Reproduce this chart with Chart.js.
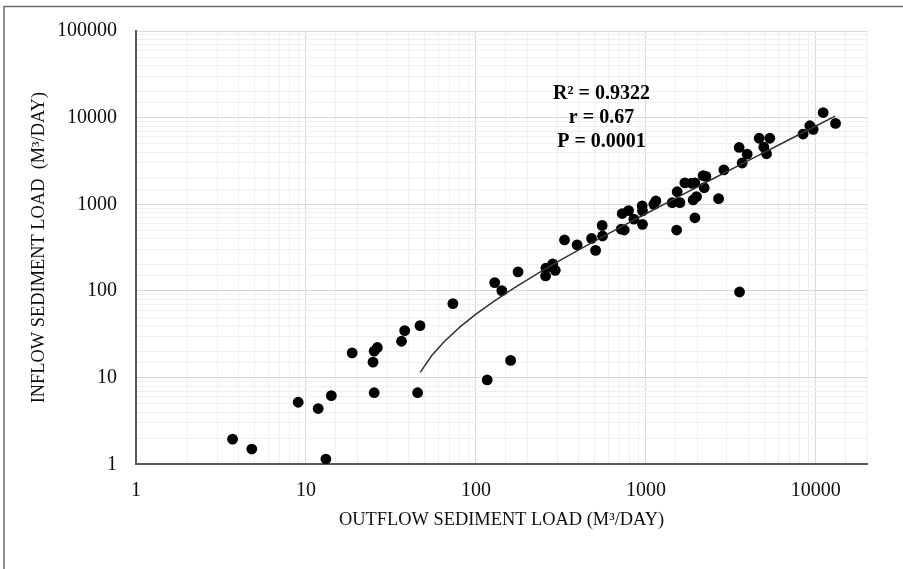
<!DOCTYPE html>
<html>
<head>
<meta charset="utf-8">
<script src="https://cdn.jsdelivr.net/npm/chart.js@4.4.1/dist/chart.umd.min.js"></script>
<style>
  html, body { margin: 0; padding: 0; background: #fff; }
  #wrap { width: 903px; height: 569px; }
</style>
</head>
<body>
<div id="wrap"><canvas id="loadChart" width="903" height="569"></canvas></div>
<script>
// sediment loads, m3/day
const outflow = [3.7, 4.8, 13.1, 9.0, 11.8, 14.1, 18.7, 24.8, 25.2, 26.3, 25.2, 36.5, 38.1, 46.9, 45.4, 73.2,
    116.5, 160, 129, 142, 177, 257, 258, 283, 293, 332, 394, 479, 506, 553, 556, 716, 746, 726, 791, 850,
    955, 951, 955, 1114, 1145, 1429, 1585, 1528, 1517, 1695, 1857, 1943, 1897, 1986, 1943, 2174, 2254,
    2203, 2678, 2877, 3539, 3686, 3944, 4642, 5360, 4943, 5130, 8415, 9220, 9645, 11040, 13060, 3556];
const inflow = [1.95, 1.5, 1.15, 5.2, 4.4, 6.2, 19.3, 15.1, 20.2, 22.3, 6.7, 26.3, 34.9, 39.8, 6.7, 71.5,
    9.4, 15.8, 125, 101, 166, 149, 184, 206, 173, 388, 340, 403, 294, 571, 431, 518, 505, 783, 848, 674,
    587, 959, 841, 1000, 1094, 1047, 1047, 1397, 505, 1771, 1750, 1770, 1123, 1225, 699, 2145, 2100,
    1553, 1162, 2494, 4529, 2998, 3795, 5783, 5783, 4563, 3828, 6473, 8076, 7328, 11460, 8580, 97.3];

// fitted trend line, sampled along its length
const trendX = [47, 55, 65, 80, 100, 130, 170, 230, 320, 450, 650, 1000, 1500, 2500, 4000, 6500, 10000, 13000];
const trendY = [11.5, 18, 26, 38, 54, 78, 110, 159, 231, 336, 497, 778, 1180, 1985, 3190, 5200, 8020, 10430];

const decadeLabels = [1, 10, 100, 1000, 10000, 100000];
const statLines = ['R\u00b2 = 0.9322', 'r = 0.67', 'P = 0.0001'];

const serif = '"Liberation Serif", "Times New Roman", serif';

function isDecade(v) {
    return decadeLabels.includes(Math.round(v));
}

const scatterPts = outflow.map((x, i) => ({ x: x, y: inflow[i] }));
const trendPts = trendX.map((x, i) => ({ x: x, y: trendY[i] }));

// page frame and the statistics block
const extras = {
    id: 'extras',
    beforeDraw(chart) {
        const c = chart.ctx;
        c.save();
        c.fillStyle = '#fff';
        c.fillRect(0, 0, chart.width, chart.height);
        c.strokeStyle = '#6b6b6b';
        c.lineWidth = 1.5;
        c.beginPath();
        c.moveTo(4, 569);
        c.lineTo(4, 6.5);
        c.lineTo(903, 6.5);
        c.stroke();
        c.restore();
    },
    afterDraw(chart) {
        const c = chart.ctx;
        c.save();
        c.fillStyle = '#000';
        c.font = 'bold 20px ' + serif;
        c.textAlign = 'center';
        c.textBaseline = 'alphabetic';
        statLines.forEach((t, i) => c.fillText(t, 601.5, 99 + i * 24));
        c.restore();
    }
};

new Chart(document.getElementById('loadChart'), {
    type: 'scatter',
    data: {
        datasets: [{
            label: 'Trend',
            data: trendPts,
            showLine: true,
            borderColor: '#333',
            borderWidth: 1.5,
            pointRadius: 0,
            fill: false
        }, {
            label: 'Loads',
            data: scatterPts,
            backgroundColor: '#000',
            borderWidth: 0,
            pointRadius: 5.4
        }]
    },
    options: {
        responsive: false,
        animation: false,
        devicePixelRatio: 1,
        layout: { padding: { top: 27, right: 36, left: 0, bottom: 0 } },
        plugins: {
            legend: { display: false },
            tooltip: { enabled: false }
        },
        scales: {
            x: {
                type: 'logarithmic',
                min: 1,
                max: 20000,
                afterFit(scale) { scale.height = 104.7; },
                border: { color: '#595959', width: 2 },
                grid: {
                    drawTicks: false,
                    color: ctx => isDecade(ctx.tick.value) ? '#d9d9d9' : '#efefef'
                },
                ticks: {
                    autoSkip: false,
                    maxRotation: 0,
                    padding: 14,
                    color: '#0d0d0d',
                    font: { family: serif, size: 20 },
                    callback: v => isDecade(v) ? String(Math.round(v)) : ''
                },
                title: {
                    display: true,
                    text: 'OUTFLOW SEDIMENT LOAD (M\u00b3/DAY)',
                    color: '#0d0d0d',
                    font: { family: serif, size: 18.4 },
                    padding: { top: 0, bottom: 38 }
                }
            },
            y: {
                type: 'logarithmic',
                min: 1,
                max: 100000,
                afterFit(scale) { scale.width = 136; },
                border: { color: '#595959', width: 2 },
                grid: {
                    drawTicks: false,
                    color: ctx => isDecade(ctx.tick.value) ? '#d9d9d9' : '#efefef'
                },
                ticks: {
                    autoSkip: false,
                    padding: 19,
                    color: '#0d0d0d',
                    font: { family: serif, size: 20 },
                    callback: v => isDecade(v) ? String(Math.round(v)) : ''
                },
                title: {
                    display: true,
                    text: 'INFLOW SEDIMENT LOAD  (M\u00b3/DAY)',
                    color: '#0d0d0d',
                    font: { family: serif, size: 18.4 },
                    padding: { top: 28, bottom: 0 }
                }
            }
        }
    },
    plugins: [extras]
});
</script>
</body>
</html>
